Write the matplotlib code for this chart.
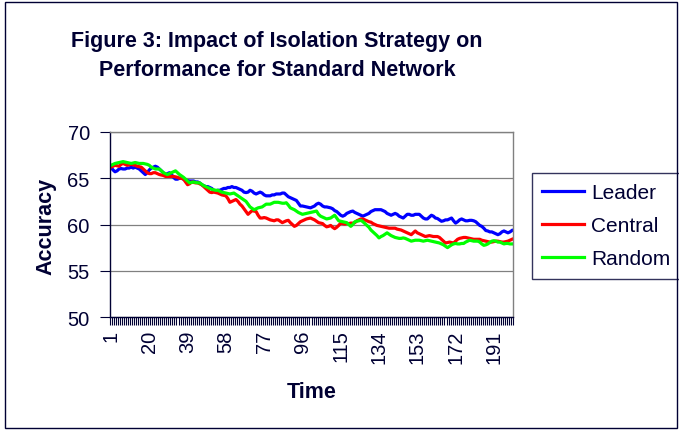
import numpy as np
import matplotlib
matplotlib.use("Agg")
import matplotlib.pyplot as plt
from matplotlib.patches import Rectangle

plt.rcParams['font.family'] = ['Liberation Sans', 'DejaVu Sans']

navy = '#000033'

# данные (Time = 1..200)
leader = [
    66.2, 65.9, 65.7, 65.8, 66.0, 66.05, 66.0, 66.0, 66.1, 66.1,
    66.2, 66.1, 66.2, 66.1, 66.0, 65.8, 65.6, 65.4, 65.6, 65.9,
    66.1, 66.2, 66.3, 66.2, 66.0, 65.8, 65.6, 65.4, 65.5, 65.6,
    65.4, 65.1, 64.9, 64.9, 65.0, 65.0, 64.9, 64.8, 64.75, 64.7,
    64.7, 64.7, 64.6, 64.6, 64.5, 64.3, 64.2, 64.1, 64.1, 64.0,
    63.9, 63.7, 63.6, 63.7, 63.7, 63.8, 63.9, 63.9, 64.0, 64.0,
    64.1, 64.0, 64.0, 63.9, 63.8, 63.7, 63.5, 63.45, 63.5, 63.7,
    63.6, 63.4, 63.3, 63.4, 63.5, 63.4, 63.2, 63.1, 63.1, 63.1,
    63.2, 63.2, 63.3, 63.3, 63.3, 63.4, 63.4, 63.2, 63.0, 62.9,
    62.8, 62.7, 62.6, 62.3, 62.0, 62.0, 61.95, 61.9, 61.85, 61.8,
    61.9, 62.0, 62.2, 62.3, 62.2, 62.0, 61.9, 61.9, 61.85, 61.8,
    61.7, 61.5, 61.4, 61.2, 61.0, 60.9, 61.0, 61.2, 61.3, 61.4,
    61.45, 61.3, 61.2, 61.1, 61.0, 60.9, 61.0, 61.1, 61.2, 61.4,
    61.5, 61.6, 61.6, 61.6, 61.6, 61.5, 61.4, 61.2, 61.1, 61.0,
    61.1, 61.2, 61.1, 60.9, 60.8, 60.7, 60.9, 61.1, 61.1, 61.0,
    61.0, 61.1, 61.1, 61.1, 60.9, 60.7, 60.6, 60.6, 60.8, 61.0,
    60.9, 60.7, 60.65, 60.5, 60.35, 60.4, 60.5, 60.5, 60.6, 60.7,
    60.4, 60.15, 60.3, 60.5, 60.6, 60.5, 60.4, 60.4, 60.45, 60.45,
    60.4, 60.3, 60.1, 59.9, 59.8, 59.6, 59.35, 59.3, 59.2, 59.2,
    59.1, 59.0, 58.9, 59.0, 59.2, 59.3, 59.2, 59.1, 59.2, 59.35,
]
central = [
    66.2, 66.3, 66.4, 66.35, 66.3, 66.5, 66.6, 66.5, 66.4, 66.45,
    66.5, 66.45, 66.4, 66.3, 66.25, 66.2, 66.0, 65.8, 65.6, 65.5,
    65.5, 65.6, 65.6, 65.5, 65.4, 65.35, 65.3, 65.2, 65.2, 65.2,
    65.2, 65.2, 65.15, 65.1, 65.0, 65.0, 64.9, 64.6, 64.3, 64.4,
    64.6, 64.55, 64.5, 64.5, 64.4, 64.3, 64.1, 63.9, 63.7, 63.5,
    63.45, 63.5, 63.45, 63.4, 63.3, 63.2, 63.15, 63.1, 62.8, 62.4,
    62.5, 62.6, 62.7, 62.5, 62.2, 62.0, 61.7, 61.4, 61.1, 61.3,
    61.5, 61.45, 61.4, 61.0, 60.7, 60.7, 60.75, 60.7, 60.6, 60.5,
    60.45, 60.4, 60.5, 60.5, 60.35, 60.2, 60.3, 60.4, 60.45, 60.2,
    60.0, 59.8, 59.9, 60.1, 60.3, 60.4, 60.5, 60.6, 60.65, 60.7,
    60.6, 60.5, 60.35, 60.2, 60.15, 60.1, 59.9, 59.75, 59.8, 59.9,
    59.7, 59.55, 59.7, 59.9, 60.15, 60.1, 60.05, 60.1, 60.1, 60.15,
    60.15, 60.2, 60.4, 60.5, 60.6, 60.6, 60.5, 60.4, 60.3, 60.25,
    60.1, 60.0, 59.9, 59.85, 59.8, 59.75, 59.7, 59.65, 59.6, 59.6,
    59.6, 59.6, 59.5, 59.45, 59.4, 59.3, 59.2, 59.1, 59.0, 58.9,
    59.1, 59.3, 59.1, 59.0, 58.9, 58.8, 58.7, 58.75, 58.8, 58.75,
    58.7, 58.7, 58.7, 58.6, 58.4, 58.2, 58.0, 58.05, 58.1, 58.05,
    58.0, 58.2, 58.4, 58.5, 58.55, 58.6, 58.6, 58.55, 58.5, 58.45,
    58.4, 58.4, 58.4, 58.4, 58.3, 58.25, 58.2, 58.15, 58.1, 58.1,
    58.15, 58.2, 58.2, 58.15, 58.1, 58.1, 58.15, 58.2, 58.3, 58.4,
]
random_ = [
    66.4, 66.5, 66.6, 66.65, 66.7, 66.75, 66.8, 66.75, 66.7, 66.65,
    66.6, 66.65, 66.7, 66.65, 66.6, 66.6, 66.6, 66.55, 66.5, 66.4,
    66.2, 66.1, 66.0, 66.0, 66.0, 65.8, 65.6, 65.5, 65.4, 65.5,
    65.6, 65.7, 65.8, 65.6, 65.4, 65.25, 65.1, 64.9, 64.7, 64.5,
    64.55, 64.6, 64.55, 64.5, 64.5, 64.35, 64.2, 64.1, 64.0, 63.9,
    63.8, 63.75, 63.7, 63.7, 63.6, 63.5, 63.45, 63.4, 63.35, 63.3,
    63.35, 63.4, 63.25, 63.1, 62.95, 62.8, 62.65, 62.5, 62.2, 61.9,
    61.75, 61.6, 61.7, 61.8, 61.85, 61.9, 62.05, 62.2, 62.2, 62.2,
    62.3, 62.4, 62.4, 62.4, 62.35, 62.3, 62.3, 62.35, 62.1, 61.8,
    61.7, 61.6, 61.45, 61.3, 61.2, 61.1, 61.15, 61.2, 61.25, 61.3,
    61.35, 61.4, 61.45, 61.1, 60.9, 60.8, 60.7, 60.6, 60.65, 60.7,
    60.85, 61.0, 60.7, 60.4, 60.35, 60.3, 60.25, 60.2, 60.0, 59.8,
    60.0, 60.3, 60.35, 60.4, 60.45, 60.3, 60.1, 59.9, 59.7, 59.4,
    59.2, 59.0, 58.8, 58.55, 58.7, 58.8, 58.95, 59.1, 58.95, 58.8,
    58.7, 58.6, 58.55, 58.5, 58.5, 58.55, 58.5, 58.4, 58.3, 58.2,
    58.25, 58.3, 58.3, 58.3, 58.25, 58.2, 58.25, 58.3, 58.25, 58.2,
    58.15, 58.1, 58.05, 58.0, 57.9, 57.8, 57.65, 57.5, 57.65, 57.8,
    57.9, 57.95, 57.9, 57.9, 57.95, 57.95, 58.1, 58.2, 58.3, 58.25,
    58.2, 58.2, 58.2, 58.1, 57.9, 57.75, 57.8, 57.9, 58.05, 58.2,
    58.25, 58.2, 58.1, 58.1, 58.0, 57.9, 57.95, 57.95, 57.9, 57.9,
]
series_names = ['Leader', 'Central', 'Random']
series_colors = ['#0000FF', '#FF0000', '#00FF00']
time = np.arange(1, len(leader) + 1)
x_labels = list(range(1, len(leader) + 1, 19))

fig = plt.figure(figsize=(6.79, 4.31), dpi=100)
ax = fig.add_axes([110 / 679, 1 - 318 / 431, 403 / 679, 185 / 431])

for vals, name, col in zip([leader, central, random_], series_names, series_colors):
    ax.plot(time, vals, color=col, lw=2.3, label=name, solid_joinstyle='round')

ax.set_xlim(0.5, len(time) + 0.5)
ax.set_ylim(50, 70)
ax.set_yticks([50, 55, 60, 65, 70])
ax.yaxis.grid(True, color='#808080', lw=0.9)
ax.set_axisbelow(True)

ax.set_xticks(x_labels)
ax.set_xticklabels([str(v) for v in x_labels], rotation=90)
ax.set_xticks(np.arange(0.5, len(time) + 1), minor=True)
ax.tick_params(axis='x', which='major', length=0, pad=9, labelsize=14.5, labelcolor=navy)
ax.tick_params(axis='x', which='minor', length=6, width=0.8, color=navy, direction='out')
ax.tick_params(axis='y', length=7, width=0.8, color=navy, labelsize=14.5, labelcolor=navy, pad=7.5)

for s in ['top', 'right']:
    ax.spines[s].set_color('#808080')
    ax.spines[s].set_linewidth(1.0)
for s in ['left', 'bottom']:
    ax.spines[s].set_color(navy)
    ax.spines[s].set_linewidth(1.0)

fig.text(277 / 679, 1 - 56 / 431,
         'Figure 3: Impact of Isolation Strategy on\nPerformance for Standard Network',
         ha='center', va='center', fontsize=15.5, fontweight='bold', color=navy,
         linespacing=1.5)
fig.text(46 / 679, 1 - 226 / 431, 'Accuracy', rotation=90, ha='center', va='center',
         fontsize=15.5, fontweight='bold', color=navy)
fig.text(312 / 679, 1 - 393 / 431, 'Time', ha='center', va='center',
         fontsize=15.5, fontweight='bold', color=navy)

leg = ax.legend(loc='upper left', bbox_to_anchor=(532 / 679, 1 - 174 / 431),
                bbox_transform=fig.transFigure, frameon=True, fancybox=False,
                fontsize=15, handlelength=2.0, handletextpad=0.35, labelspacing=0.67,
                borderpad=0.5, borderaxespad=0)
leg.get_frame().set_edgecolor(navy)
leg.get_frame().set_linewidth(1.0)
for t in leg.get_texts():
    t.set_color(navy)

fig.add_artist(Rectangle((5 / 679, 2 / 431), 672 / 679, 426 / 431, transform=fig.transFigure,
                         fill=False, ec=navy, lw=1.0))

fig.savefig('out.png', dpi=100)
